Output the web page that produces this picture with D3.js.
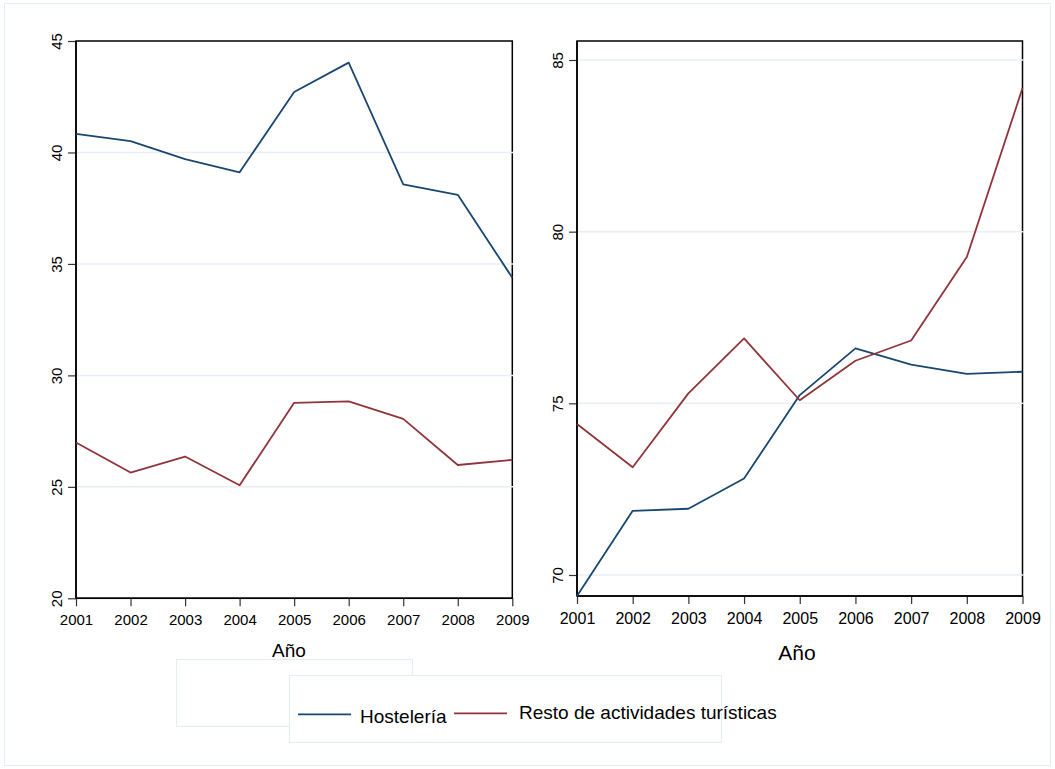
<!DOCTYPE html>
<html>
<head>
<meta charset="utf-8">
<script src="https://cdn.jsdelivr.net/npm/d3@7"></script>
<style>
  body { margin: 0; background: #fff; }
  svg { display: block; font-family: "Liberation Sans", Arial, sans-serif; }
</style>
</head>
<body>
<div id="chart"></div>
<script>
// data
var years = [2001, 2002, 2003, 2004, 2005, 2006, 2007, 2008, 2009];
var hostLeft   = [40.83, 40.51, 39.70, 39.11, 42.71, 44.03, 38.57, 38.10, 34.38];
var restoLeft  = [26.99, 25.64, 26.36, 25.07, 28.77, 28.83, 28.05, 25.98, 26.21];
var hostRight  = [69.39, 71.87, 71.93, 72.81, 75.24, 76.60, 76.13, 75.86, 75.92];
var restoRight = [74.40, 73.14, 75.29, 76.89, 75.09, 76.24, 76.83, 79.26, 84.18];
var leftTicks  = [20, 25, 30, 35, 40, 45];
var rightTicks = [70, 75, 80, 85];
var seriesNames = ["Hostelería", "Resto de actividades turísticas"];
var colors = ["#1a476f", "#90353b"];

var width = 1055, height = 769;

var svg = d3.select("#chart")
  .append("svg")
  .attr("width", width)
  .attr("height", height);

// outer figure border
svg.append("rect")
  .attr("x", 4.5).attr("y", 3.5)
  .attr("width", 1046).attr("height", 762)
  .attr("fill", "#fff")
  .attr("stroke", "#e6edf2");

// panel layout (pixels) + which series go in it
var panels = [
  { left: 76, right: 512.3, top: 41, bottom: 598.3,
    domain: [20, 45], range: [598.3, 41], ticks: leftTicks,
    series: [hostLeft, restoLeft], xFont: 15, yFont: 15, labBase: 27,
    title: { x: 289, y: 657, size: 19 } },
  { left: 577, right: 1022.5, top: 41, bottom: 596,
    domain: [70, 85], range: [575, 60], ticks: rightTicks,
    series: [hostRight, restoRight], xFont: 16, yFont: 15, labBase: 27.5,
    title: { x: 797, y: 660, size: 21 } }
];

panels.forEach(function(p) {
  var x = d3.scaleLinear()
    .domain([years[0], years[years.length - 1]])
    .range([p.left, p.right]);
  var y = d3.scaleLinear()
    .domain(p.domain)
    .range(p.range);

  var g = svg.append("g");

  // plot area + top/right frame
  g.append("rect")
    .attr("x", p.left).attr("y", p.top)
    .attr("width", p.right - p.left).attr("height", p.bottom - p.top)
    .attr("fill", "#fff")
    .attr("stroke", "#000")
    .attr("stroke-width", 1.5);

  // gridlines (only the ones inside the frame)
  var inner = p.ticks.filter(function(d) { return y(d) > p.top + 1 && y(d) < p.bottom - 1; });
  g.selectAll(".grid")
    .data(inner)
    .enter()
    .append("line")
      .attr("x1", p.left + 1)
      .attr("x2", p.right + 1)
      .attr("y1", function(d) { return y(d); })
      .attr("y2", function(d) { return y(d); })
      .attr("stroke", "#e9eff4")
      .attr("stroke-width", 1.5);

  // y axis
  var yAxis = g.append("g")
    .attr("transform", "translate(" + p.left + ",0)")
    .call(d3.axisLeft(y).tickValues(p.ticks).tickSize(8).tickSizeOuter(0));
  yAxis.select(".domain").remove();
  yAxis.append("line")
    .attr("y1", p.top).attr("y2", p.bottom)
    .attr("stroke", "#000").attr("stroke-width", 1.5);
  yAxis.selectAll(".tick line").attr("stroke", "#333").attr("stroke-width", 1.2);
  yAxis.selectAll(".tick text")
    .attr("x", null).attr("dy", null)
    .attr("transform", "translate(-14,0) rotate(-90)")
    .style("text-anchor", "middle")
    .style("font-size", p.yFont + "px")
    .attr("fill", "#000");

  // x axis
  var xAxis = g.append("g")
    .attr("transform", "translate(0," + p.bottom + ")")
    .call(d3.axisBottom(x).tickValues(years).tickFormat(d3.format("d")).tickSize(8).tickSizeOuter(0));
  xAxis.select(".domain").remove();
  xAxis.append("line")
    .attr("x1", p.left).attr("x2", p.right)
    .attr("stroke", "#000").attr("stroke-width", 1.5);
  xAxis.selectAll(".tick line").attr("stroke", "#333").attr("stroke-width", 1.2);
  xAxis.selectAll(".tick text")
    .attr("y", p.labBase).attr("dy", null)
    .style("font-size", p.xFont + "px")
    .attr("fill", "#000");

  // axis title
  g.append("text")
    .attr("x", p.title.x)
    .attr("y", p.title.y)
    .style("text-anchor", "middle")
    .style("font-size", p.title.size + "px")
    .text("Año");

  // series lines
  var line = d3.line()
    .x(function(d, i) { return x(years[i]); })
    .y(function(d) { return y(d); });
  p.series.forEach(function(vals, k) {
    g.append("path")
      .datum(vals)
      .attr("d", line)
      .attr("fill", "none")
      .attr("stroke", colors[k])
      .attr("stroke-width", 1.8)
      .attr("stroke-linejoin", "round");
  });
});

// empty leftover legend box
svg.append("rect")
  .attr("x", 176.5).attr("y", 659.5)
  .attr("width", 236).attr("height", 67)
  .attr("fill", "#fff")
  .attr("stroke", "#e6edf2");

// legend
svg.append("rect")
  .attr("x", 289.5).attr("y", 675.5)
  .attr("width", 432).attr("height", 67)
  .attr("fill", "#fff")
  .attr("stroke", "#e6edf2");

var legendItems = [
  { lx: 298, ly: 714.3, tx: 360, ty: 722.7 },
  { lx: 454, ly: 713.3, tx: 519, ty: 719 }
];
svg.selectAll(".legline")
  .data(seriesNames)
  .enter()
  .append("line")
    .attr("x1", function(d, i) { return legendItems[i].lx; })
    .attr("x2", function(d, i) { return legendItems[i].lx + 53; })
    .attr("y1", function(d, i) { return legendItems[i].ly; })
    .attr("y2", function(d, i) { return legendItems[i].ly; })
    .attr("stroke", function(d, i) { return colors[i]; })
    .attr("stroke-width", 1.8);
svg.selectAll(".legtext")
  .data(seriesNames)
  .enter()
  .append("text")
    .attr("x", function(d, i) { return legendItems[i].tx; })
    .attr("y", function(d, i) { return legendItems[i].ty; })
    .style("font-size", "19px")
    .text(function(d) { return d; });
</script>
</body>
</html>
